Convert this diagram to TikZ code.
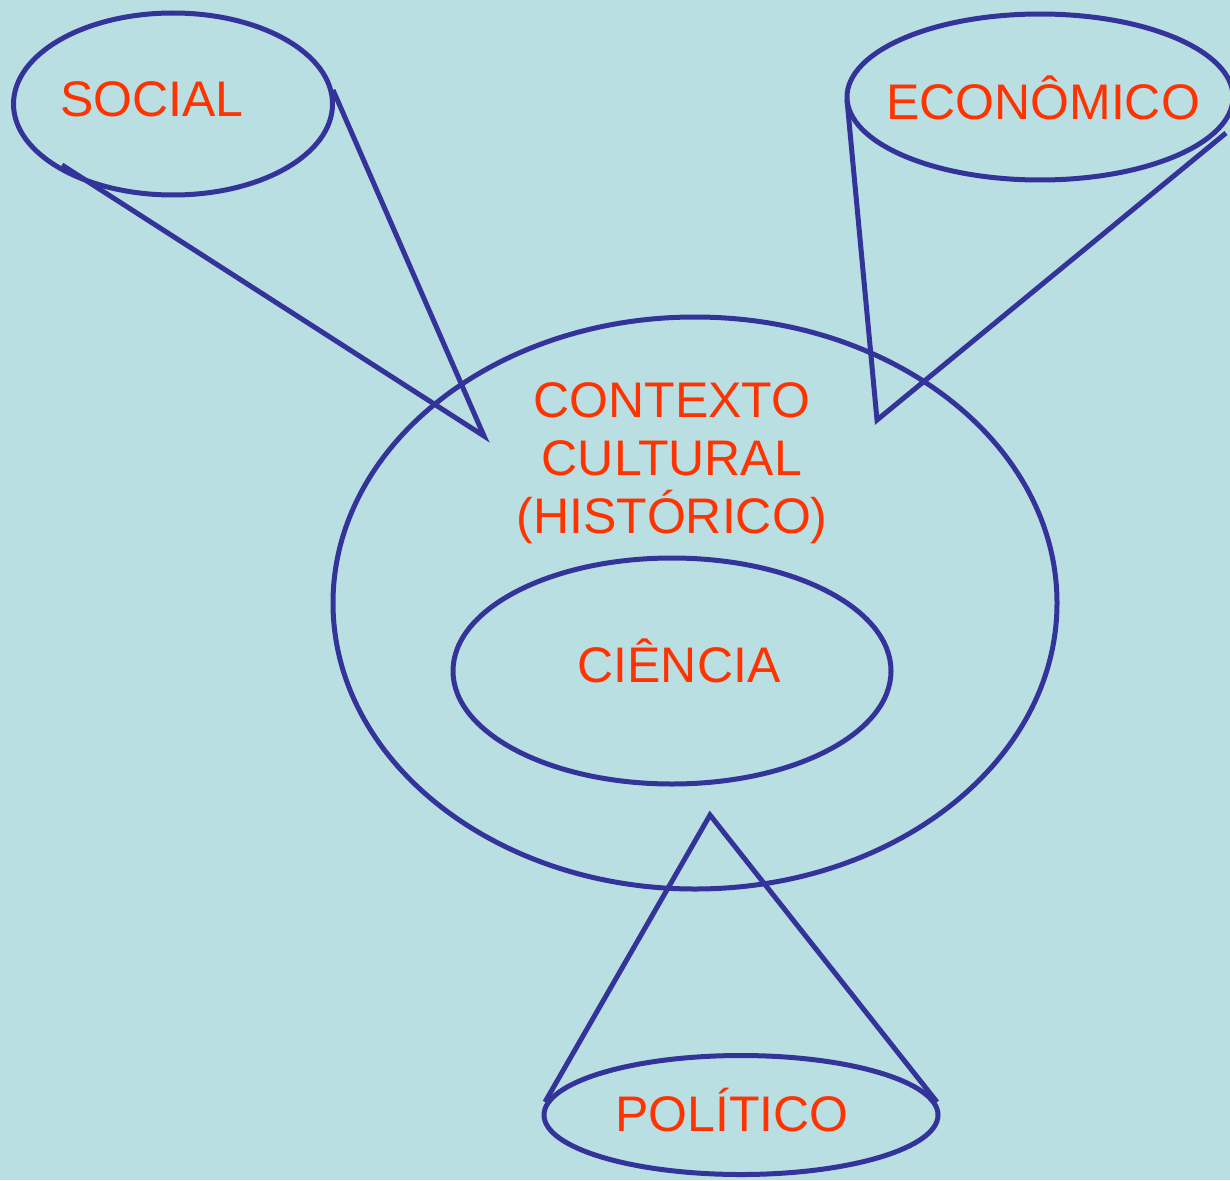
\documentclass[tikz,border=0pt]{standalone}
\usepackage{fontspec}
\setmainfont{Liberation Sans}
\usetikzlibrary{shapes.geometric}
\definecolor{bg}{HTML}{B9DFE3}
\definecolor{ln}{HTML}{333399}
\definecolor{tx}{HTML}{FF3300}
\begin{document}
\begin{tikzpicture}[x=1pt,y=-1pt,
  ell/.style={draw=ln,line width=5pt,ellipse,inner sep=0pt},
  lab/.style={text=tx,font=\fontsize{50}{58}\selectfont,inner sep=0pt,align=center},
  conn/.style={draw=ln,line width=5pt}]
\fill[bg] (0,0) rectangle (1230,1180);
\useasboundingbox (0,0) rectangle (1230,1180);
% ellipses
\node[ell,minimum width=319pt,minimum height=182pt] (soc) at (173,104) {};
\node[ell,minimum width=386pt,minimum height=166pt] (eco) at (1040,97) {};
\node[ell,minimum width=724pt,minimum height=572pt] (ctx) at (695,603) {};
\node[ell,minimum width=438pt,minimum height=226pt] (cie) at (672,671) {};
\node[ell,minimum width=394pt,minimum height=119pt] (pol) at (741,1115) {};
% labels
\node[lab] (tsoc) at (152,99) {SOCIAL};
\node[lab] (teco) at (1043,98) {ECONÔMICO};
\node[lab] (tctx) at (672,463) {CONTEXTO\\CULTURAL\\(HISTÓRICO)};
\node[lab] (tcie) at (679,661) {CIÊNCIA};
\node[lab] (tpol) at (732,1110) {POLÍTICO};
% connector endpoints
\coordinate (s1) at (62,165);
\coordinate (s2) at (333,90);
\coordinate (st) at (484,436);
\coordinate (e1) at (847,100);
\coordinate (e2) at (1226,133);
\coordinate (et) at (877,420);
\coordinate (p1) at (545,1102);
\coordinate (p2) at (937,1102);
\coordinate (pt) at (710,815);
\draw[conn] (s1) -- (st) -- (s2);
\draw[conn] (e1) -- (et) -- (e2);
\draw[conn] (p1) -- (pt) -- (p2);
\end{tikzpicture}
\end{document}
